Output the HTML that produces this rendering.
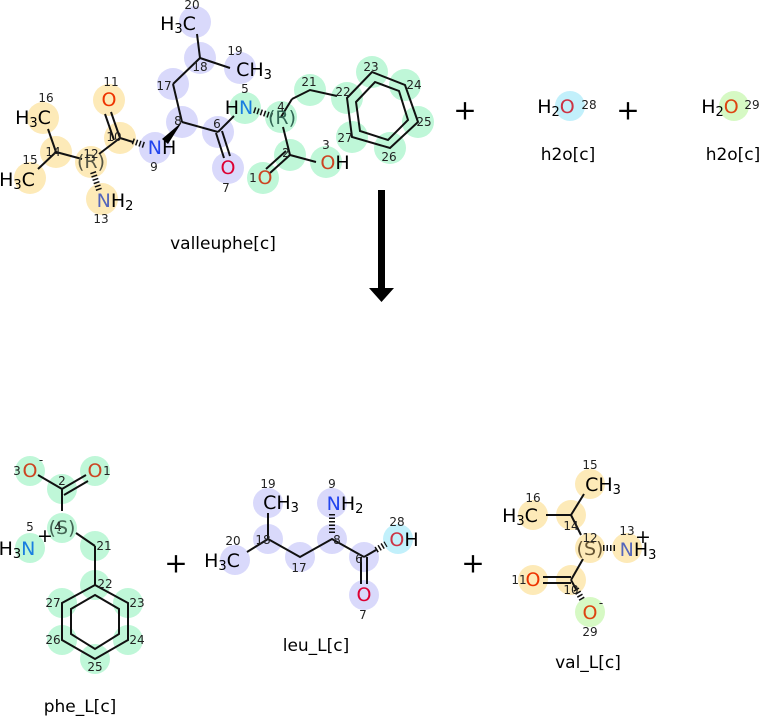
<!DOCTYPE html>
<html><head><meta charset="utf-8"><style>
html,body{margin:0;padding:0;background:#fff;width:762px;height:716px;overflow:hidden}
svg{display:block}
text{font-family:"DejaVu Sans","Liberation Sans",sans-serif}
.a{font-size:19px;text-anchor:middle;dominant-baseline:central}
.n{font-size:12px;text-anchor:middle;dominant-baseline:central;fill:#222}
.l{font-size:17px;text-anchor:middle;fill:#000}
.p{font-size:28px;text-anchor:middle;dominant-baseline:central}
line,polyline{stroke:#111;stroke-width:2;fill:none}
.h{stroke-dasharray:1.5 2;stroke-width:6}
.Y{fill:#fdeab8}.V{fill:#d9d9fb}.G{fill:#bff7d8}.C{fill:#c2f0fb}.L{fill:#d6f9c4}
</style></head><body>
<svg width="762" height="716" viewBox="0 0 762 716" xmlns="http://www.w3.org/2000/svg">
<g>
<circle class="V" cx="195" cy="22" r="16"/><circle class="V" cx="200" cy="58" r="16"/><circle class="V" cx="240" cy="68" r="16"/>
<circle class="V" cx="173" cy="84" r="16"/><circle class="V" cx="182" cy="122" r="16"/><circle class="V" cx="218" cy="132" r="16"/>
<circle class="V" cx="228" cy="168" r="16"/><circle class="V" cx="155" cy="148" r="16"/>
<circle class="Y" cx="120" cy="138" r="16"/><circle class="Y" cx="109" cy="100" r="16"/><circle class="Y" cx="91" cy="162" r="16"/>
<circle class="Y" cx="102" cy="199" r="16"/><circle class="Y" cx="56" cy="152" r="16"/><circle class="Y" cx="43" cy="118" r="16"/><circle class="Y" cx="30" cy="178" r="16"/>
<circle class="G" cx="245" cy="108" r="16"/><circle class="G" cx="281" cy="117" r="16"/><circle class="G" cx="310" cy="90" r="16"/>
<circle class="G" cx="347" cy="98" r="16"/><circle class="G" cx="372" cy="72" r="16"/><circle class="G" cx="405" cy="85" r="16"/>
<circle class="G" cx="418" cy="122" r="16"/><circle class="G" cx="390" cy="148" r="16"/><circle class="G" cx="352" cy="137" r="16"/>
<circle class="G" cx="290" cy="155" r="16"/><circle class="G" cx="263" cy="178" r="16"/><circle class="G" cx="326" cy="162" r="16"/>

<line x1="197" y1="34" x2="200" y2="58"/><line x1="200" y1="58" x2="230" y2="68"/><line x1="200" y1="58" x2="173" y2="84"/>
<line x1="173" y1="84" x2="182" y2="122"/><path d="M182,122 L162,139 L168,144 Z" fill="#000"/>
<line x1="182" y1="122" x2="218" y2="132"/>
<line x1="216" y1="133" x2="224" y2="158"/><line x1="222" y1="131" x2="230" y2="156"/>
<line x1="218" y1="132" x2="234" y2="116"/>
<line class="h" x1="254" y1="110" x2="272" y2="116"/>
<line x1="281" y1="117" x2="292" y2="99"/><polyline points="292,99 310,90 337,96"/>
<line x1="283" y1="127" x2="290" y2="155"/>
<line x1="290" y1="155" x2="270" y2="173"/><line x1="286" y1="151" x2="266" y2="169"/>
<line x1="290" y1="155" x2="316" y2="162"/>
<polygon points="347,98 372,72 405,85 418,122 390,148 352,137" fill="none" stroke="#111" stroke-width="2"/>
<polygon points="356,102 375,82 399,91 408,120 388,140 360,131" fill="none" stroke="#111" stroke-width="2"/>
<line class="h" x1="144" y1="145" x2="132" y2="141"/>
<line x1="133" y1="142" x2="120" y2="138"/>
<line x1="120" y1="138" x2="111" y2="112"/><line x1="114" y1="140" x2="105" y2="114"/>
<line x1="120" y1="138" x2="99" y2="154"/>
<line x1="82" y1="159" x2="56" y2="152"/>
<line class="h" x1="93" y1="172" x2="99" y2="190"/>
<line x1="56" y1="152" x2="48" y2="129"/><line x1="56" y1="152" x2="38" y2="169"/>

<text class="a" x="178" y="24">H<tspan font-size="13" dy="5">3</tspan><tspan dy="-5">C</tspan></text>
<text class="n" x="192" y="5">20</text><text class="n" x="200" y="67">18</text><text class="n" x="235" y="51">19</text>
<text class="a" x="254" y="70">CH<tspan font-size="13" dy="5">3</tspan></text>
<text class="n" x="164" y="86">17</text><text class="n" x="178" y="121">8</text><text class="n" x="217" y="124">6</text>
<text class="a" x="228" y="168" fill="#dd0033">O</text><text class="n" x="226" y="188">7</text>
<text class="a" x="162" y="148"><tspan fill="#2244ee">N</tspan>H</text><text class="n" x="154" y="167">9</text>
<text class="n" x="114" y="137">10</text><text class="a" x="109" y="100" fill="#ee3300">O</text><text class="n" x="111" y="82">11</text>
<text class="a" x="91" y="162" fill="#554">(R)</text><text class="n" x="91" y="154">12</text>
<text class="a" x="115" y="201"><tspan fill="#5566bb">N</tspan>H<tspan font-size="13" dy="5">2</tspan></text><text class="n" x="101" y="219">13</text>
<text class="n" x="53" y="152">14</text><text class="n" x="30" y="160">15</text><text class="n" x="46" y="98">16</text>
<text class="a" x="33" y="118">H<tspan font-size="13" dy="5">3</tspan><tspan dy="-5">C</tspan></text>
<text class="a" x="17" y="180">H<tspan font-size="13" dy="5">3</tspan><tspan dy="-5">C</tspan></text>
<text class="a" x="239" y="108">H<tspan fill="#1a7ee0">N</tspan></text><text class="n" x="245" y="89">5</text>
<text class="a" x="282" y="118" fill="#336655">(R)</text><text class="n" x="281" y="107">4</text>
<text class="n" x="309" y="82">21</text><text class="n" x="343" y="92">22</text><text class="n" x="371" y="67">23</text>
<text class="n" x="414" y="85">24</text><text class="n" x="424" y="122">25</text><text class="n" x="389" y="157">26</text><text class="n" x="345" y="138">27</text>
<text class="n" x="286" y="153">2</text>
<text class="a" x="265" y="178" fill="#cc4422">O</text><text class="n" x="253" y="178">1</text>
<text class="a" x="335" y="163"><tspan fill="#cc4422">O</tspan>H</text><text class="n" x="326" y="145">3</text>
<text class="l" x="223" y="249">valleuphe[c]</text>
</g>
<text class="p" x="465" y="110">+</text>
<circle class="C" cx="570" cy="106" r="15"/>
<text class="a" x="556" y="107">H<tspan font-size="13" dy="5">2</tspan><tspan dy="-5" fill="#cc3344">O</tspan></text>
<text class="n" x="589" y="105">28</text>
<text class="l" x="568" y="160">h2o[c]</text>
<text class="p" x="628" y="110">+</text>
<circle class="L" cx="734" cy="106" r="15"/>
<text class="a" x="720" y="107">H<tspan font-size="13" dy="5">2</tspan><tspan dy="-5" fill="#dd4411">O</tspan></text>
<text class="n" x="752" y="105">29</text>
<text class="l" x="733" y="160">h2o[c]</text>

<rect x="378" y="190" width="7" height="100" fill="#000"/>
<polygon points="369,288 394,288 381.5,302" fill="#000"/>

<!-- phe_L -->
<circle class="G" cx="30" cy="471" r="15"/><circle class="G" cx="95" cy="471" r="15"/><circle class="G" cx="62" cy="489" r="15"/>
<circle class="G" cx="62" cy="528" r="15"/><circle class="G" cx="30" cy="548" r="15"/><circle class="G" cx="95" cy="546" r="15"/>
<circle class="G" cx="95" cy="585" r="15"/><circle class="G" cx="128" cy="603" r="15"/><circle class="G" cx="128" cy="640" r="15"/>
<circle class="G" cx="95" cy="659" r="15"/><circle class="G" cx="62" cy="640" r="15"/><circle class="G" cx="62" cy="603" r="15"/>
<line x1="38" y1="475" x2="62" y2="489"/><line x1="62" y1="489" x2="86" y2="475"/><line x1="64" y1="495" x2="88" y2="481"/>
<line x1="62" y1="489" x2="62" y2="511"/><line x1="76" y1="533" x2="95" y2="546"/><line x1="95" y1="546" x2="95" y2="585"/>
<polygon points="95,585 128,603 128,640 95,659 62,640 62,603" fill="none" stroke="#111" stroke-width="2"/>
<polygon points="95,595 119,609 119,634 95,649 71,634 71,609" fill="none" stroke="#111" stroke-width="2"/>
<text class="a" x="30" y="471" fill="#cc4422">O</text><text class="n" x="17" y="471">3</text><text class="n" x="41" y="460">-</text>
<text class="a" x="95" y="471" fill="#cc4422">O</text><text class="n" x="107" y="471">1</text>
<text class="n" x="62" y="481">2</text>
<text class="a" x="62" y="528" fill="#446655">(S)</text><text class="n" x="58" y="527">4</text>
<text class="a" x="17" y="549">H<tspan font-size="13" dy="5">3</tspan><tspan dy="-5" fill="#1a7ee0">N</tspan></text>
<text class="n" x="30" y="527">5</text><text class="a" x="45" y="536">+</text>
<text class="n" x="104" y="546">21</text><text class="n" x="105" y="584">22</text><text class="n" x="137" y="603">23</text>
<text class="n" x="137" y="640">24</text><text class="n" x="95" y="667">25</text><text class="n" x="53" y="640">26</text><text class="n" x="53" y="603">27</text>
<text class="l" x="80" y="712">phe_L[c]</text>

<text class="p" x="176" y="563">+</text>

<!-- leu_L -->
<circle class="V" cx="268" cy="503" r="15"/><circle class="V" cx="332" cy="503" r="15"/><circle class="V" cx="268" cy="539" r="15"/>
<circle class="V" cx="235" cy="560" r="15"/><circle class="V" cx="300" cy="557" r="15"/><circle class="V" cx="332" cy="539" r="15"/>
<circle class="V" cx="364" cy="557" r="15"/><circle class="C" cx="398" cy="539" r="15"/><circle class="V" cx="364" cy="595" r="15"/>
<line x1="268" y1="513" x2="268" y2="539"/><line x1="268" y1="539" x2="247" y2="552"/>
<polyline points="268,539 300,557 332,539 364,557"/>
<line class="h" x1="332" y1="514" x2="332" y2="535"/>
<line x1="361" y1="557" x2="361" y2="584"/><line x1="367" y1="557" x2="367" y2="584"/>
<line x1="364" y1="557" x2="376" y2="550"/><line class="h" x1="376" y1="550" x2="386" y2="544"/>
<text class="a" x="281" y="503">CH<tspan font-size="13" dy="5">3</tspan></text><text class="n" x="268" y="484">19</text>
<text class="a" x="345" y="504"><tspan fill="#2244ee">N</tspan>H<tspan font-size="13" dy="5">2</tspan></text><text class="n" x="332" y="484">9</text>
<text class="n" x="263" y="540">18</text><text class="n" x="337" y="540">8</text><text class="n" x="299" y="568">17</text><text class="n" x="359" y="559">6</text>
<text class="a" x="222" y="561">H<tspan font-size="13" dy="5">3</tspan><tspan dy="-5">C</tspan></text><text class="n" x="233" y="541">20</text>
<text class="a" x="404" y="540"><tspan fill="#cc3344">O</tspan>H</text><text class="n" x="397" y="522">28</text>
<text class="a" x="364" y="595" fill="#dd0033">O</text><text class="n" x="363" y="615">7</text>
<text class="l" x="316" y="651">leu_L[c]</text>

<text class="p" x="473" y="563">+</text>

<!-- val_L -->
<circle class="Y" cx="590" cy="484" r="15"/><circle class="Y" cx="533" cy="515" r="15"/><circle class="Y" cx="571" cy="515" r="15"/>
<circle class="Y" cx="590" cy="548" r="15"/><circle class="Y" cx="627" cy="548" r="15"/><circle class="Y" cx="571" cy="580" r="15"/>
<circle class="Y" cx="533" cy="580" r="15"/><circle class="L" cx="590" cy="612" r="15"/>
<line x1="546" y1="515" x2="571" y2="515"/><line x1="571" y1="515" x2="584" y2="494"/><line x1="571" y1="515" x2="581" y2="535"/>
<line x1="583" y1="559" x2="571" y2="580"/>
<line class="h" x1="603" y1="548" x2="617" y2="548"/>
<line x1="543" y1="577" x2="571" y2="577"/><line x1="543" y1="583" x2="571" y2="583"/>
<line x1="571" y1="580" x2="576" y2="589"/><line class="h" x1="576" y1="589" x2="583" y2="601"/>
<text class="a" x="603" y="485">CH<tspan font-size="13" dy="5">3</tspan></text><text class="n" x="590" y="465">15</text>
<text class="a" x="520" y="516">H<tspan font-size="13" dy="5">3</tspan><tspan dy="-5">C</tspan></text><text class="n" x="533" y="498">16</text>
<text class="n" x="571" y="526">14</text>
<text class="a" x="590" y="549" fill="#665533">(S)</text><text class="n" x="590" y="538">12</text>
<text class="a" x="638" y="550"><tspan fill="#5566bb">N</tspan>H<tspan font-size="13" dy="5">3</tspan></text><text class="n" x="627" y="531">13</text><text class="a" x="643" y="537">+</text>
<text class="a" x="533" y="580" fill="#ee3300">O</text><text class="n" x="519" y="580">11</text>
<text class="n" x="571" y="590">10</text>
<text class="a" x="590" y="613" fill="#dd4411">O</text><text class="n" x="601" y="603">-</text><text class="n" x="590" y="632">29</text>
<text class="l" x="588" y="668">val_L[c]</text>
</svg>
</body></html>
